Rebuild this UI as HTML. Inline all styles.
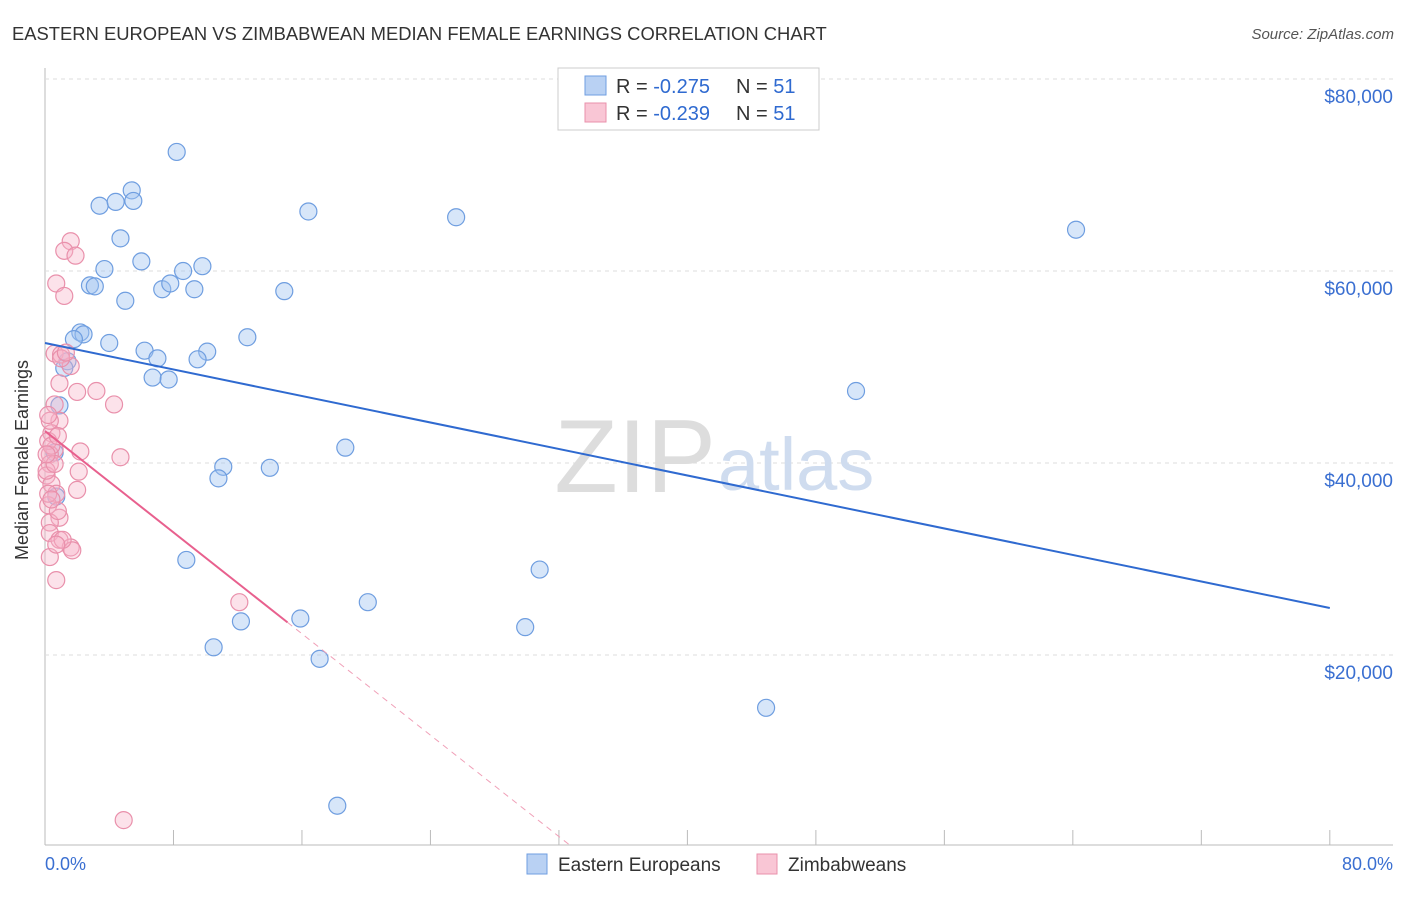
<!DOCTYPE html>
<html><head><meta charset="utf-8"><style>
body{margin:0;background:#fff;font-family:"Liberation Sans",sans-serif;}
svg text{font-family:"Liberation Sans",sans-serif;}
</style></head><body>
<svg width="1406" height="892" viewBox="0 0 1406 892">
<text x="12" y="40" font-size="18.4" fill="#333">EASTERN EUROPEAN VS ZIMBABWEAN MEDIAN FEMALE EARNINGS CORRELATION CHART</text>
<text x="1394" y="39" font-size="15" fill="#555" text-anchor="end" font-style="italic">Source: ZipAtlas.com</text>
<g id="grid"></g>
<text x="716" y="492" font-size="104" fill="#ddd" text-anchor="end" font-family="Liberation Serif">ZIP</text>
<text x="718" y="490" font-size="74" fill="#cfdcef">atlas</text>
<g id="pts"></g>
<g id="lines"></g>
<text x="24" y="456" font-size="18" fill="#333" text-anchor="middle" transform="rotate(-90 28 456)">Median Female Earnings</text>
<text x="45" y="870" font-size="18" fill="#3a6fd1">0.0%</text>
<text x="1393" y="870" font-size="18" fill="#3a6fd1" text-anchor="end">80.0%</text>
<g>
<rect x="558" y="68" width="261" height="62" fill="#fff" stroke="#ccc"/>
<rect x="585" y="76" width="21" height="19" fill="#b9d1f3" stroke="#6f9ee0"/>
<rect x="585" y="103" width="21" height="19" fill="#f9c6d5" stroke="#e990ab"/>
<text x="616" y="93" font-size="20" fill="#333">R = <tspan fill="#2f6ad0">-0.275</tspan></text>
<text x="736" y="93" font-size="20" fill="#333">N = <tspan fill="#2f6ad0">51</tspan></text>
<text x="616" y="120" font-size="20" fill="#333">R = <tspan fill="#2f6ad0">-0.239</tspan></text>
<text x="736" y="120" font-size="20" fill="#333">N = <tspan fill="#2f6ad0">51</tspan></text>
</g>
<g>
<rect x="527" y="854" width="20" height="20" fill="#b9d1f3" stroke="#6f9ee0"/>
<text x="558" y="871" font-size="19" fill="#333">Eastern Europeans</text>
<rect x="757" y="854" width="20" height="20" fill="#f9c6d5" stroke="#e990ab"/>
<text x="788" y="871" font-size="19" fill="#333">Zimbabweans</text>
</g>
</svg>
<script>
const yTicks=[20000,40000,60000,80000];
const yTickLabels=["$20,000","$40,000","$60,000","$80,000"];
const blueX=[8.2,5.4,3.4,4.4,5.5,16.4,25.6,64.2,4.7,6.0,3.7,8.6,9.8,2.8,3.1,5.0,7.3,7.8,9.3,14.9,2.2,2.4,1.8,4.0,12.6,6.2,7.0,10.1,9.5,1.4,1.2,6.7,7.7,50.5,0.9,18.7,0.6,11.1,14.0,10.8,0.7,8.8,30.8,20.1,15.9,12.2,29.9,10.5,17.1,44.9,18.2];
const blueY=[72400,68400,66800,67200,67300,66200,65600,64300,63400,61000,60200,60000,60500,58500,58400,56900,58100,58700,58100,57900,53600,53400,52900,52500,53100,51700,50900,51600,50800,50600,49900,48900,48700,47500,46000,41600,41100,39600,39500,38400,36500,29900,28900,25500,23800,23500,22900,20800,19600,14500,4300];
const pinkX=[0.7,1.2,1.6,1.2,1.9,0.6,1.0,1.6,0.9,2.0,3.2,4.3,0.6,0.9,0.4,0.6,2.2,4.7,0.3,0.3,2.1,0.1,0.4,2.0,0.7,0.2,0.9,0.3,0.3,0.9,1.6,1.7,0.3,0.7,12.1,4.9,0.3,0.2,0.4,0.1,0.8,1.0,1.3,0.2,0.4,1.1,0.7,0.2,0.6,0.8,0.1];
const pinkY=[58700,57400,63100,62100,61600,51400,51300,50100,48300,47400,47500,46100,46100,44400,43100,41400,41200,40600,40900,39900,39100,38700,37800,37200,36800,35600,34300,33800,32700,32000,31200,30900,30200,27800,25500,2800,44400,42300,41800,39200,35000,50900,51500,36800,36200,32000,31500,45000,39900,42800,40900];
const blueTrend=[52500,24900];
const pinkTrend=[43330,-1320];
const X=v=>45+v*16.06, Y=v=>847-v*0.0096;
const NS="http://www.w3.org/2000/svg";
function mk(t,a,p){const e=document.createElementNS(NS,t);for(const k in a)e.setAttribute(k,a[k]);p.appendChild(e);return e;}
const g=document.getElementById('grid');
mk('line',{x1:45,y1:68,x2:45,y2:845,stroke:'#bbb'},g);
mk('line',{x1:45,y1:845,x2:1393,y2:845,stroke:'#bbb'},g);
for(let i=0;i<=10;i++){const l=mk('line',{x1:X(i*8),y1:830,x2:X(i*8),y2:845,stroke:'#bbb'},g);

}
yTicks.forEach((v,i)=>{const l=mk('line',{x1:45,y1:Y(v),x2:1393,y2:Y(v),stroke:'#ddd','stroke-dasharray':'4 4'},g);


const t=mk('text',{x:1393,y:Y(v)+24,'font-size':19,fill:'#3a6fd1','text-anchor':'end'},g);t.textContent=yTickLabels[i];

});
const p=document.getElementById('pts');
blueX.forEach((x,i)=>{const c=mk('circle',{cx:X(x),cy:Y(blueY[i]),r:8.5,fill:'rgba(160,195,240,0.42)',stroke:'#6f9ee0','stroke-width':1.2},p);

});
pinkX.forEach((x,i)=>{const c=mk('circle',{cx:X(x),cy:Y(pinkY[i]),r:8.5,fill:'rgba(248,180,200,0.38)',stroke:'#e990ab','stroke-width':1.2},p);

});
const L=document.getElementById('lines');
const bl=mk('line',{x1:X(0),y1:Y(blueTrend[0]),x2:X(80),y2:Y(blueTrend[1]),stroke:'#2f6ad0','stroke-width':2},L);


const pe=15.1, pz=-pinkTrend[0]/pinkTrend[1];
const pl=mk('line',{x1:X(0),y1:Y(pinkTrend[0]),x2:X(pe),y2:Y(pinkTrend[0]+pinkTrend[1]*pe),stroke:'#e8608e','stroke-width':2},L);


const pd=mk('line',{x1:X(pe),y1:Y(pinkTrend[0]+pinkTrend[1]*pe),x2:X(pz),y2:Y(0),stroke:'#f0a0b8','stroke-width':1,'stroke-dasharray':'6 5'},L);


</script>
</body></html>
